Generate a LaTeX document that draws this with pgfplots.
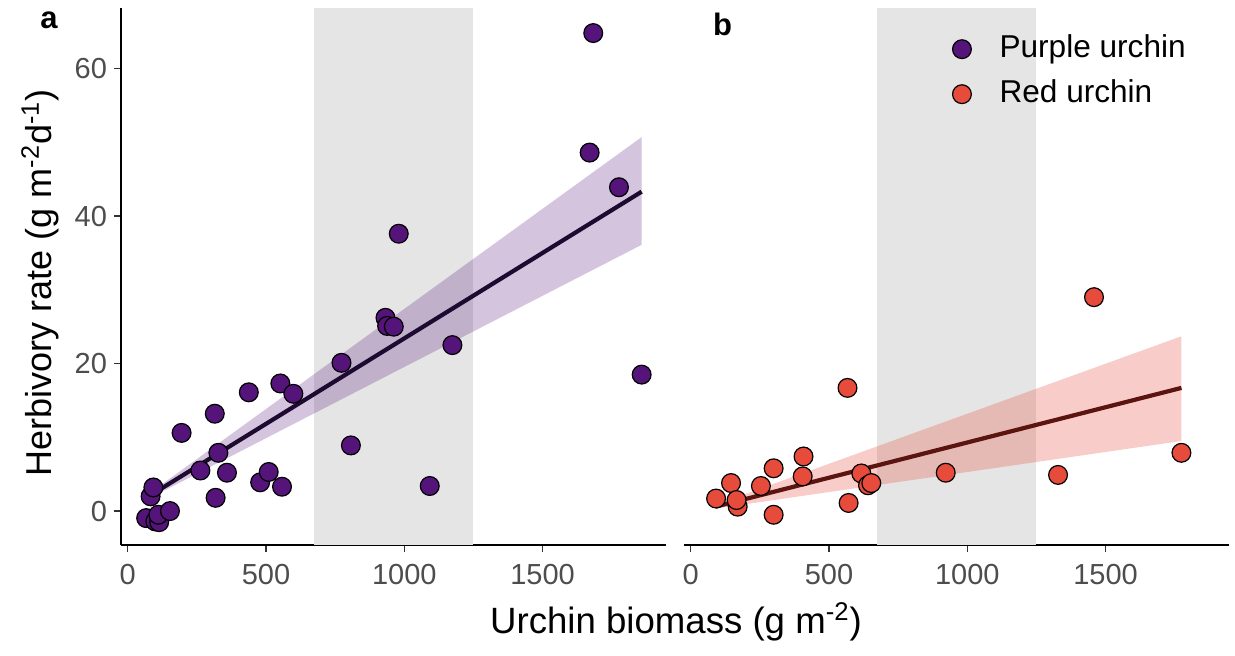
\documentclass[border=0pt]{standalone}
\usepackage{pgfplots}
\pgfplotsset{compat=1.18}
\usepackage{fontspec}
\setmainfont{Liberation Sans}
\definecolor{purp}{RGB}{84,20,122}
\definecolor{redu}{RGB}{230,75,60}
\definecolor{purpline}{RGB}{30,10,48}
\definecolor{redline}{RGB}{92,20,16}
\definecolor{bandgray}{RGB}{229,229,229}
\definecolor{ticklab}{RGB}{77,77,77}

\pgfplotstableread{
x y
67 -0.95
100 -1.4
114 -1.5
111 -0.5
153 0.0
83 2.0
93 3.2
195 10.6
263 5.5
315 13.2
318 1.8
328 7.9
359 5.2
438 16.1
479 3.9
510 5.3
552 17.3
558 3.3
599 15.9
773 20.1
807 8.9
932 26.2
938 25.1
962 25.0
980 37.6
1092 3.4
1174 22.5
1670 48.6
1683 64.8
1776 43.9
1858 18.5
}\purpledata

\pgfplotstableread{
x y
92 1.7
146 3.8
170 0.6
166 1.5
254 3.4
300 5.8
300 -0.5
405 4.7
408 7.4
567 16.7
571 1.1
617 5.1
641 3.5
653 3.8
922 5.2
1328 4.9
1458 29.0
1774 7.9
}\reddata

\pgfplotsset{
  panel/.style={
    scale only axis, width=272.5pt, height=268.5pt,
    xmin=-24, xmax=1946, ymin=-4.6, ymax=68.2,
    xtick={0,500,1000,1500},
    tick align=outside, major tick length=3.5pt,
    tick style={black!80, line width=0.7pt},
    axis line style={black, line width=1pt, -},
    tick label style={font=\fontsize{14.5}{14.5}\selectfont, text=ticklab},
    xticklabel style={yshift=-2.5pt},
    /pgf/number format/assume math mode=true,
    /pgf/number format/set thousands separator={},
    axis x line*=bottom,
  },
  pts/.style={only marks, mark=*, mark size=4.7pt, mark options={fill=#1, draw=black, line width=0.6pt}},
}

\begin{document}
\begin{tikzpicture}
\path[use as bounding box] (0,0) rectangle (617.5pt,327.5pt);

\begin{axis}[panel, at={(60.5pt,55pt)}, anchor=south west,
  axis y line*=left, ytick={0,20,40,60}]
  \addplot[fill=bandgray, draw=none, forget plot] coordinates {(672,-4.6) (1250,-4.6) (1250,68.2) (672,68.2)} -- cycle;
  \addplot[pts=purp] table[x=x,y=y] {\purpledata};
  \addplot[fill=purp, fill opacity=0.25, draw=none, forget plot] coordinates {(66,2.05) (1858,50.7) (1858,36.1) (66,1.5)} -- cycle;
  \addplot[purpline, line width=2.1pt] coordinates {(66,1.76) (1858,43.3)};
\end{axis}

\begin{axis}[panel, at={(342pt,55pt)}, anchor=south west,
  axis y line=none, ytick=\empty,
  legend style={at={(0.492,0.952)}, anchor=north west, draw=none, fill=none,
    font=\fontsize{15.8}{15.8}\selectfont, inner sep=0pt, row sep=7.5pt,
    nodes={inner sep=0pt, text height=11.5pt, text depth=3.5pt}},
  legend cell align=left,
  legend image code/.code={\draw[#1] plot[only marks] coordinates {(4.7pt,0pt)}; \path[draw=none, fill=none] (0pt,0pt) -- (23.5pt,0pt);}]
  \addplot[fill=bandgray, draw=none, forget plot] coordinates {(672,-4.6) (1250,-4.6) (1250,68.2) (672,68.2)} -- cycle;
  \addplot[pts=redu, forget plot] table[x=x,y=y] {\reddata};
  \addplot[fill=redu, fill opacity=0.28, draw=none, forget plot] coordinates {(90,0.85) (1774,23.7) (1774,9.5) (90,0.35)} -- cycle;
  \addplot[redline, line width=2.1pt, forget plot] coordinates {(90,0.6) (1774,16.7)};
  \addlegendimage{pts=purp}
  \addlegendentry{Purple urchin}
  \addlegendimage{pts=redu}
  \addlegendentry{Red urchin}
\end{axis}

\node[anchor=base west, inner sep=0pt, font=\fontsize{15.5}{15.5}\selectfont\bfseries] at (20pt,313.2pt) {a};
\node[anchor=base west, inner sep=0pt, font=\fontsize{15.5}{15.5}\selectfont\bfseries] at (356.3pt,309.6pt) {b};
\node[font=\fontsize{18.3}{18.3}\selectfont] at (338pt,16.5pt) {Urchin biomass (g m\textsuperscript{-2})};
\node[rotate=90, font=\fontsize{18}{18}\selectfont] at (20pt,186pt) {Herbivory rate (g m\textsuperscript{-2}d\textsuperscript{-1})};
\end{tikzpicture}
\end{document}
